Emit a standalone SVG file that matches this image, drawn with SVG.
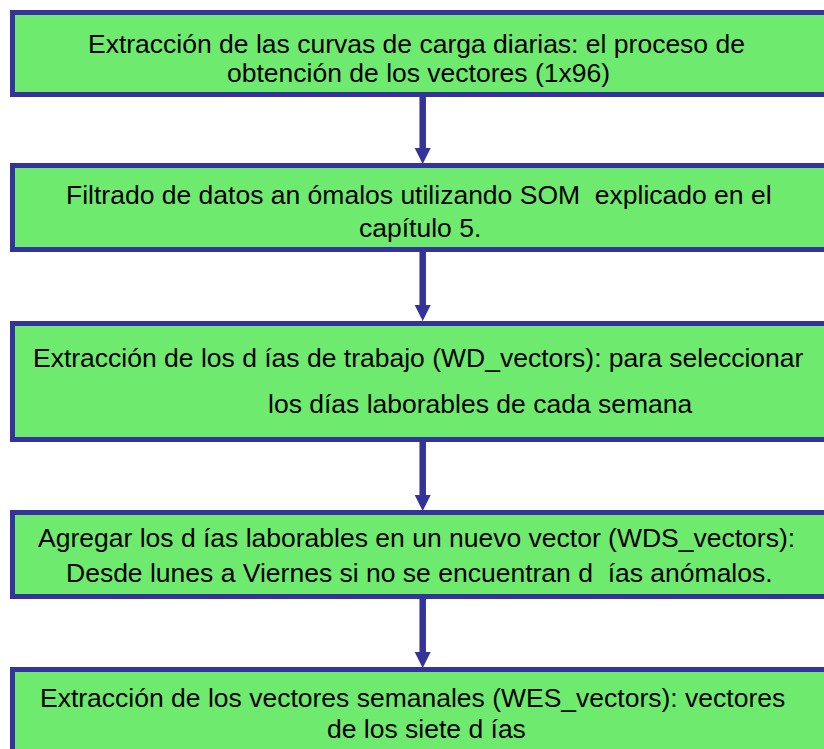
<svg xmlns="http://www.w3.org/2000/svg" width="824" height="749" viewBox="0 0 824 749">
<style>
.box{fill:#6EEB6E;stroke:#333399;stroke-width:5}
.t{font-family:"Liberation Sans",Arial,sans-serif;font-size:26.5px;fill:#000;white-space:pre}
.shaft{stroke:#333399;stroke-width:6.5;fill:none}
.head{fill:#333399}
</style>
<rect width="824" height="749" fill="#fff"/>
<g id="connectors">
<line class="shaft" x1="422.7" y1="96" x2="422.7" y2="149"/>
<polygon class="head" points="414.7,148 430.7,148 422.7,164"/>
<line class="shaft" x1="422.7" y1="251" x2="422.7" y2="306"/>
<polygon class="head" points="414.7,305 430.7,305 422.7,321"/>
<line class="shaft" x1="422.7" y1="441" x2="422.7" y2="496"/>
<polygon class="head" points="414.7,495 430.7,495 422.7,511"/>
<line class="shaft" x1="422.7" y1="598" x2="422.7" y2="653"/>
<polygon class="head" points="414.7,652 430.7,652 422.7,668"/>
</g>
<g id="node1">
<rect class="box" x="12.5" y="12.5" width="830" height="82"/>
<text class="t" x="88" y="53">Extracción de las curvas de carga diarias: el proceso de</text>
<text class="t" x="227" y="82">obtención de los vectores (1x96)</text>
</g>
<g id="node2">
<rect class="box" x="12.5" y="165.5" width="830" height="84"/>
<text class="t" x="66" y="204" xml:space="preserve">Filtrado de datos an ómalos utilizando SOM  explicado en el</text>
<text class="t" x="359" y="237">capítulo 5.</text>
</g>
<g id="node3">
<rect class="box" x="12.5" y="323.5" width="830" height="116"/>
<text class="t" x="33" y="367">Extracción de los d ías de trabajo (WD_vectors): para seleccionar</text>
<text class="t" x="268" y="413">los días laborables de cada semana</text>
</g>
<g id="node4">
<rect class="box" x="12.5" y="512.5" width="830" height="84"/>
<text class="t" x="38" y="547">Agregar los d ías laborables en un nuevo vector (WDS_vectors):</text>
<text class="t" x="66" y="582" xml:space="preserve">Desde lunes a Viernes si no se encuentran d  ías anómalos.</text>
</g>
<g id="node5">
<rect class="box" x="12.5" y="669.5" width="830" height="100"/>
<text class="t" x="40" y="707">Extracción de los vectores semanales (WES_vectors): vectores</text>
<text class="t" x="327" y="738">de los siete d ías</text>
</g>
</svg>
